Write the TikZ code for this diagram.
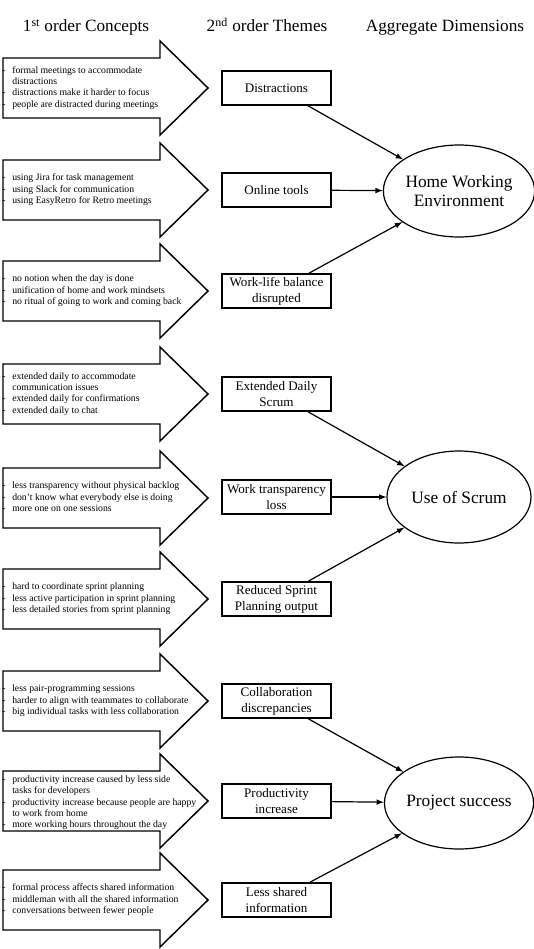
\documentclass[tikz,border=0pt]{standalone}
\usepackage{fontspec}
\setmainfont{Liberation Serif}
\usepackage{tikz}
\usetikzlibrary{positioning, shapes.geometric, arrows}

\begin{document}
\begin{tikzpicture}[x=0.75pt, y=-0.75pt, >=latex,
    header/.style={anchor=base, font=\fontsize{12.9}{15}\selectfont},
    concept/.style={draw, line width=1.1pt},
    items/.style={anchor=west, inner sep=0pt, font=\fontsize{7.3}{8.5}\selectfont},
    theme/.style={draw, line width=1.2pt, minimum width=81.75pt, minimum height=25.5pt, inner sep=1pt, align=center, font=\fontsize{9.8}{12}\selectfont},
    dimension/.style={draw, ellipse, line width=0.9pt, minimum width=108pt, minimum height=69pt, inner sep=0pt, align=center, font=\fontsize{13}{14}\selectfont},
    link/.style={->, line width=0.9pt}]

    \useasboundingbox (0,0) rectangle (534,949);

    % column headers
    \node[header] (h1) at (86,32) {1\textsuperscript{st} order Concepts};
    \node[header] (h2) at (267,32) {2\textsuperscript{nd} order Themes};
    \node[header] (h3) at (445,32) {Aggregate Dimensions};

    % block arrows
    \foreach \y in {88,190,291,394,498,599,701,801,900}
        \draw[concept] (3,\y-30) -- (160,\y-30) -- (160,\y-47) -- (208,\y) -- (160,\y+47) -- (160,\y+30) -- (3,\y+30) -- cycle;

    % 1st order concepts
    \node[items] (c1) at (2,88) {\begin{tabular}{@{}p{7.5pt}@{}l@{}}
        - & formal meetings to accommodate\\ & distractions\\
        - & distractions make it harder to focus\\
        - & people are distracted during meetings\end{tabular}};
    \node[items] (c2) at (2,190) {\begin{tabular}{@{}p{7.5pt}@{}l@{}}
        - & using Jira for task management\\
        - & using Slack for communication\\
        - & using EasyRetro for Retro meetings\end{tabular}};
    \node[items] (c3) at (2,291) {\begin{tabular}{@{}p{7.5pt}@{}l@{}}
        - & no notion when the day is done\\
        - & unification of home and work mindsets\\
        - & no ritual of going to work and coming back\end{tabular}};
    \node[items] (c4) at (2,394) {\begin{tabular}{@{}p{7.5pt}@{}l@{}}
        - & extended daily to accommodate\\ & communication issues\\
        - & extended daily for confirmations\\
        - & extended daily to chat\end{tabular}};
    \node[items] (c5) at (2,498) {\begin{tabular}{@{}p{7.5pt}@{}l@{}}
        - & less transparency without physical backlog\\
        - & don’t know what everybody else is doing\\
        - & more one on one sessions\end{tabular}};
    \node[items] (c6) at (2,599) {\begin{tabular}{@{}p{7.5pt}@{}l@{}}
        - & hard to coordinate sprint planning\\
        - & less active participation in sprint planning\\
        - & less detailed stories from sprint planning\end{tabular}};
    \node[items] (c7) at (2,701) {\begin{tabular}{@{}p{7.5pt}@{}l@{}}
        - & less pair-programming sessions\\
        - & harder to align with teammates to collaborate\\
        - & big individual tasks with less collaboration\end{tabular}};
    \node[items] (c8) at (2,803) {\begin{tabular}{@{}p{7.5pt}@{}l@{}}
        - & productivity increase caused by less side\\ & tasks for developers\\
        - & productivity increase because people are happy\\ & to work from home\\
        - & more working hours throughout the day\end{tabular}};
    \node[items] (c9) at (2,900) {\begin{tabular}{@{}p{7.5pt}@{}l@{}}
        - & formal process affects shared information\\
        - & middleman with all the shared information\\
        - & conversations between fewer people\end{tabular}};

    % 2nd order themes
    \node[theme] (t1) at (276.5,88) {Distractions};
    \node[theme] (t2) at (276.5,190) {Online tools};
    \node[theme] (t3) at (276.5,291) {Work-life balance\\disrupted};
    \node[theme] (t4) at (276.5,394) {Extended Daily\\Scrum};
    \node[theme] (t5) at (276.5,497) {Work transparency\\loss};
    \node[theme] (t6) at (276.5,599) {Reduced Sprint\\Planning output};
    \node[theme] (t7) at (276.5,701) {Collaboration\\discrepancies};
    \node[theme] (t8) at (276.5,801) {Productivity\\increase};
    \node[theme] (t9) at (276.5,900) {Less shared\\information};

    % aggregate dimensions
    \node[dimension] (d1) at (459,191) {Home Working\\Environment};
    \node[dimension] (d2) at (459,497) {Use of Scrum};
    \node[dimension] (d3) at (459,803) {Project success};

    \draw[link] (t1) -- (d1);
    \draw[link] (t2) -- (d1);
    \draw[link] (t3) -- (d1);
    \draw[link] (t4) -- (d2);
    \draw[link] (t5) -- (d2);
    \draw[link] (t6) -- (d2);
    \draw[link] (t7) -- (d3);
    \draw[link] (t8) -- (d3);
    \draw[link] (t9) -- (d3);
\end{tikzpicture}
\end{document}
